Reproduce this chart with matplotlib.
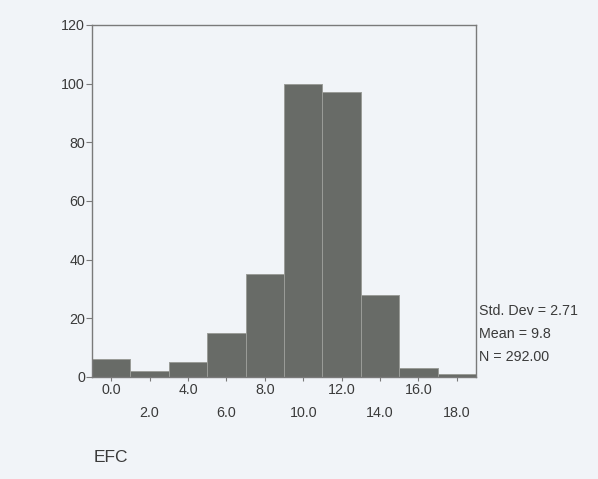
import numpy as np
import matplotlib
matplotlib.use('Agg')
import matplotlib.pyplot as plt

# histogram of EFC, bin centres and counts
centros = [0.0, 2.0, 4.0, 6.0, 8.0, 10.0, 12.0, 14.0, 16.0, 18.0]
contagens = [6, 2, 5, 15, 35, 100, 97, 28, 3, 1]
rotulos_x = ['0.0', '2.0', '4.0', '6.0', '8.0', '10.0', '12.0', '14.0', '16.0', '18.0']
ticks_y = [0, 20, 40, 60, 80, 100, 120]
estatisticas = ['Std. Dev = 2.71', 'Mean = 9.8', 'N = 292.00']
variavel = 'EFC'

plt.rcParams['font.family'] = ['Liberation Sans', 'DejaVu Sans']

fundo = '#f1f4f8'
cinza_barra = '#686b67'
cinza_texto = '#3a3a3a'
cinza_eixo = '#7a7a7a'

fig = plt.figure(figsize=(5.98, 4.79), dpi=100, facecolor=fundo)
ax = fig.add_axes([92/598, 1-377/479, (476-92)/598, (377-25)/479])
ax.set_facecolor(fundo)

ax.bar(centros, contagens, width=2.0, color=cinza_barra,
       edgecolor='#9a9c98', linewidth=0.7)

ax.set_xlim(-1, 19)
ax.set_ylim(0, 120)

for s in ax.spines.values():
    s.set_color(cinza_eixo)
    s.set_linewidth(1.0)

ax.set_yticks(ticks_y)
ax.set_yticklabels([str(v) for v in ticks_y])
ax.tick_params(axis='y', direction='out', length=4, width=0.8,
               color=cinza_eixo, pad=1, labelsize=10.3, labelcolor=cinza_texto)

# labels alternate in two rows, like the SPSS output
ax.set_xticks(centros[::2])
ax.set_xticklabels(rotulos_x[::2])
ax.set_xticks(centros[1::2], minor=True)
ax.set_xticklabels(rotulos_x[1::2], minor=True)
ax.tick_params(axis='x', which='major', direction='out', length=3, width=0.8,
               color=cinza_eixo, pad=1.5, labelsize=10.3, labelcolor=cinza_texto)
ax.tick_params(axis='x', which='minor', direction='out', length=3, width=0.8,
               color=cinza_eixo, pad=18, labelsize=10.3, labelcolor=cinza_texto)

# stats box on the right
for i, t in enumerate(estatisticas):
    fig.text(479/598, 1-(311 + 23*i)/479, t, fontsize=10.3, color=cinza_texto,
             ha='left', va='center')

fig.text(94/598, 1-458/479, variavel, fontsize=12.5, color=cinza_texto,
         ha='left', va='center')

fig.savefig('out.png', dpi=100, facecolor=fundo)
